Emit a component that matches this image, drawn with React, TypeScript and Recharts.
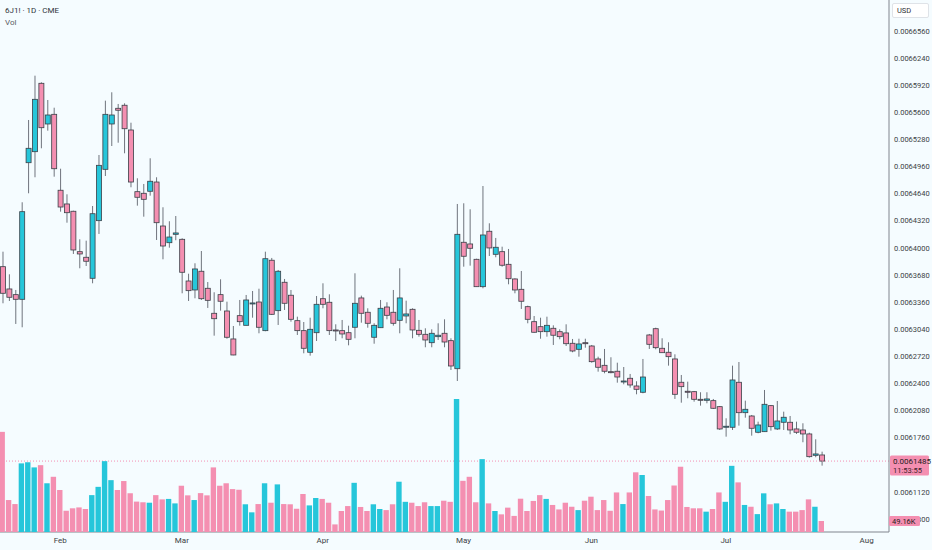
import React from "react"
import { ComposedChart, Bar, Cell, XAxis, YAxis, ReferenceLine } from "recharts"

const W = 932
const H = 550
const UP = "#26c6da"
const DOWN = "#f48fb1"
const BG = "#f5fcff"
const FONT = "Roboto, 'Liberation Sans', sans-serif"

// daily bars, 6J1! (JPY futures)
const opens = [
    0.0063779, 0.0063516, 0.0063449, 0.0063394, 0.0065006, 0.0065136, 0.0065943, 0.0065463, 0.0065577, 0.0064681,
    0.0064519, 0.0064433, 0.0063956, 0.0063890, 0.0063642, 0.0064322, 0.0064928, 0.0065463, 0.0065648, 0.0065684,
    0.0065392, 0.0064664, 0.0064645, 0.0064669, 0.0064778, 0.0064259, 0.0064062, 0.0064161, 0.0064102, 0.0063610,
    0.0063504, 0.0063725, 0.0063524, 0.0063229, 0.0063449, 0.0063256, 0.0062926, 0.0063201, 0.0063087, 0.0063339,
    0.0063362, 0.0063024, 0.0063855, 0.0063260, 0.0063595, 0.0063442, 0.0063142, 0.0063024, 0.0062769, 0.0063000,
    0.0063401, 0.0063359, 0.0063032, 0.0063024, 0.0063000, 0.0063064, 0.0063410, 0.0063241, 0.0062946, 0.0063059,
    0.0063303, 0.0063241, 0.0063146, 0.0063197, 0.0063276, 0.0063028, 0.0062981, 0.0062882, 0.0062953, 0.0062993,
    0.0062906, 0.0062575, 0.0064067, 0.0064047, 0.0063866, 0.0063543, 0.0064197, 0.0063925, 0.0063956, 0.0063807,
    0.0063634, 0.0063512, 0.0063307, 0.0063130, 0.0063071, 0.0063012, 0.0063052, 0.0063012, 0.0062997, 0.0062875,
    0.0062804, 0.0062882, 0.0062843, 0.0062690, 0.0062615, 0.0062540, 0.0062545, 0.0062418, 0.0062462, 0.0062371,
    0.0062297, 0.0062973, 0.0063047, 0.0062816, 0.0062769, 0.0062690, 0.0062415, 0.0062309, 0.0062304, 0.0062214,
    0.0062202, 0.0062198, 0.0062127, 0.0061884, 0.0061884, 0.0062415, 0.0062056, 0.0062017, 0.0061825, 0.0061832,
    0.0062139, 0.0061864, 0.0061943, 0.0061943, 0.0061864, 0.0061852, 0.0061805, 0.0061553, 0.0061557,
]
const highs = [
    0.0063956, 0.0063689, 0.0063504, 0.0064539, 0.0065510, 0.0066033, 0.0065955, 0.0065746, 0.0065655, 0.0064935,
    0.0064633, 0.0064440, 0.0064102, 0.0064086, 0.0064495, 0.0065097, 0.0065738, 0.0065837, 0.0065699, 0.0065707,
    0.0065478, 0.0064822, 0.0064755, 0.0065058, 0.0064834, 0.0064480, 0.0064315, 0.0064377, 0.0064114, 0.0063696,
    0.0063819, 0.0063964, 0.0063598, 0.0063477, 0.0063630, 0.0063366, 0.0063079, 0.0063386, 0.0063445, 0.0063492,
    0.0063519, 0.0063956, 0.0063882, 0.0063740, 0.0063634, 0.0063504, 0.0063189, 0.0063126, 0.0063177, 0.0063433,
    0.0063583, 0.0063453, 0.0063099, 0.0063150, 0.0063083, 0.0063701, 0.0063437, 0.0063288, 0.0063111, 0.0063386,
    0.0063359, 0.0063504, 0.0063760, 0.0063378, 0.0063288, 0.0063150, 0.0063052, 0.0063040, 0.0063111, 0.0063158,
    0.0062934, 0.0064519, 0.0064527, 0.0064456, 0.0063873, 0.0064731, 0.0064291, 0.0064118, 0.0064015, 0.0063988,
    0.0063642, 0.0063728, 0.0063319, 0.0063197, 0.0063177, 0.0063189, 0.0063087, 0.0063040, 0.0063099, 0.0062926,
    0.0062929, 0.0062929, 0.0062855, 0.0062717, 0.0062808, 0.0062710, 0.0062646, 0.0062595, 0.0062513, 0.0062427,
    0.0062690, 0.0062985, 0.0063059, 0.0062934, 0.0062887, 0.0062745, 0.0062501, 0.0062422, 0.0062312, 0.0062297,
    0.0062297, 0.0062218, 0.0062135, 0.0061990, 0.0062611, 0.0062654, 0.0062198, 0.0062029, 0.0061950, 0.0062324,
    0.0062147, 0.0062194, 0.0062068, 0.0062017, 0.0061950, 0.0061931, 0.0061820, 0.0061742, 0.0061596,
]
const lows = [
    0.0063347, 0.0063374, 0.0063103, 0.0063064, 0.0064645, 0.0064834, 0.0065176, 0.0065384, 0.0064841, 0.0064428,
    0.0064298, 0.0063929, 0.0063760, 0.0063787, 0.0063583, 0.0064165, 0.0064849, 0.0065203, 0.0065242, 0.0065117,
    0.0064716, 0.0064499, 0.0064369, 0.0064617, 0.0064094, 0.0063866, 0.0064003, 0.0064091, 0.0063465, 0.0063374,
    0.0063406, 0.0063386, 0.0063292, 0.0062965, 0.0063260, 0.0062929, 0.0062734, 0.0063083, 0.0063087, 0.0063177,
    0.0062993, 0.0063017, 0.0063209, 0.0063091, 0.0063268, 0.0063130, 0.0062973, 0.0062757, 0.0062729, 0.0062902,
    0.0063288, 0.0062973, 0.0062902, 0.0062934, 0.0062851, 0.0062934, 0.0063118, 0.0063059, 0.0062870, 0.0063059,
    0.0063158, 0.0063083, 0.0062993, 0.0063111, 0.0062934, 0.0062953, 0.0062828, 0.0062828, 0.0062914, 0.0062828,
    0.0062560, 0.0062430, 0.0063779, 0.0063791, 0.0063543, 0.0063524, 0.0063905, 0.0063890, 0.0063779, 0.0063571,
    0.0063465, 0.0063280, 0.0063111, 0.0063000, 0.0062929, 0.0062953, 0.0062855, 0.0062922, 0.0062843, 0.0062769,
    0.0062717, 0.0062823, 0.0062646, 0.0062540, 0.0062521, 0.0062521, 0.0062410, 0.0062391, 0.0062351, 0.0062273,
    0.0062285, 0.0062808, 0.0062804, 0.0062764, 0.0062611, 0.0062218, 0.0062174, 0.0062226, 0.0062186, 0.0062139,
    0.0062167, 0.0062100, 0.0061852, 0.0061773, 0.0061852, 0.0061903, 0.0061997, 0.0061785, 0.0061813, 0.0061832,
    0.0061844, 0.0061852, 0.0061852, 0.0061801, 0.0061805, 0.0061707, 0.0061525, 0.0061530, 0.0061431,
]
const closes = [
    0.0063465, 0.0063418, 0.0063394, 0.0064428, 0.0065176, 0.0065754, 0.0065419, 0.0065569, 0.0064935, 0.0064483,
    0.0064416, 0.0063976, 0.0063929, 0.0063843, 0.0064404, 0.0064975, 0.0065577, 0.0065569, 0.0065625, 0.0065407,
    0.0064778, 0.0064598, 0.0064574, 0.0064787, 0.0064298, 0.0064023, 0.0064129, 0.0064177, 0.0063713, 0.0063496,
    0.0063752, 0.0063401, 0.0063382, 0.0063165, 0.0063371, 0.0062946, 0.0062737, 0.0063130, 0.0063386, 0.0063351,
    0.0063064, 0.0063873, 0.0063217, 0.0063725, 0.0063347, 0.0063158, 0.0063024, 0.0062816, 0.0063040, 0.0063335,
    0.0063335, 0.0063024, 0.0063024, 0.0062985, 0.0062922, 0.0063347, 0.0063229, 0.0063111, 0.0063087, 0.0063288,
    0.0063205, 0.0063111, 0.0063410, 0.0063221, 0.0063032, 0.0062981, 0.0062914, 0.0062993, 0.0062970, 0.0062890,
    0.0062607, 0.0064161, 0.0063902, 0.0063996, 0.0063543, 0.0064153, 0.0064000, 0.0064008, 0.0063796, 0.0063637,
    0.0063504, 0.0063371, 0.0063158, 0.0063005, 0.0063012, 0.0063087, 0.0062970, 0.0062953, 0.0062870, 0.0062784,
    0.0062867, 0.0062870, 0.0062658, 0.0062592, 0.0062545, 0.0062528, 0.0062477, 0.0062430, 0.0062383, 0.0062332,
    0.0062477, 0.0062863, 0.0062823, 0.0062764, 0.0062717, 0.0062273, 0.0062363, 0.0062297, 0.0062214, 0.0062202,
    0.0062218, 0.0062108, 0.0061864, 0.0061896, 0.0062442, 0.0062056, 0.0062096, 0.0061872, 0.0061911, 0.0062155,
    0.0061891, 0.0061958, 0.0062002, 0.0061852, 0.0061825, 0.0061805, 0.0061537, 0.0061569, 0.0061485,
]
// volume in thousands of contracts
const volumesK = [
    448, 143, 125, 307, 312, 289, 299, 218, 247, 188, 95, 106, 110, 103, 165, 202, 317, 232, 188, 228,
    173, 136, 133, 131, 165, 146, 148, 128, 207, 164, 143, 174, 164, 289, 207, 218, 192, 189, 124, 88,
    125, 218, 131, 213, 125, 124, 104, 170, 119, 152, 148, 131, 34, 94, 116, 220, 112, 94, 124, 103,
    98, 124, 225, 135, 131, 116, 133, 116, 116, 140, 135, 595, 229, 247, 133, 326, 128, 94, 79, 109,
    72, 149, 94, 139, 165, 148, 121, 101, 131, 113, 98, 140, 158, 98, 143, 95, 177, 125, 177, 267,
    255, 161, 101, 96, 143, 208, 292, 112, 106, 106, 91, 103, 177, 135, 296, 222, 121, 113, 80, 173,
    124, 128, 103, 91, 91, 98, 146, 113, 49.16,
]

// bar index where each month label sits
const monthTicks = [9, 28, 50, 72, 92, 113, 135]
const monthLabels = ["Feb", "Mar", "Apr", "May", "Jun", "Jul", "Aug"]
// 0.0061440 is hidden behind the last-price tag, like in the terminal
const priceTicks = [
    0.006080, 0.006112, 0.006176, 0.006208, 0.006240, 0.006272, 0.006304, 0.006336, 0.006368,
    0.006400, 0.006432, 0.006464, 0.006496, 0.006528, 0.006560, 0.006592, 0.006624, 0.006656,
]
const lastPrice = 0.0061485
const countdown = "11:53:55"
const lastVolLabel = "49.16K"

const data = opens.map((o, i) => ({
    i,
    open: o,
    high: highs[i],
    low: lows[i],
    close: closes[i],
    range: [lows[i], highs[i]],
    vol: volumesK[i],
}))

const xDomain = [-0.42, 138.5]
const priceDomain = [0.0060648, 0.0066926]
const volDomain = [0, 2380]
const margin = { top: 0, right: 0, bottom: 0, left: 0 }

function Candle(props: any) {
    const { x, y, width, height, payload } = props
    const { open, close, high, low } = payload
    const top = Math.min(y, y + height)
    const h = Math.abs(height)
    const k = h / (high - low)
    const yOf = (v: number) => top + (high - v) * k
    const bTop = yOf(Math.max(open, close))
    const bBot = yOf(Math.min(open, close))
    const cx = x + width / 2
    const up = close >= open
    return (
        <g>
            <line x1={cx} x2={cx} y1={top} y2={top + h} stroke="#6f747d" strokeWidth={1} />
            <rect
                x={x}
                y={bTop}
                width={width}
                height={Math.max(bBot - bTop, 1)}
                fill={up ? UP : DOWN}
                stroke="#3a3f47"
                strokeWidth={0.8}
            />
        </g>
    )
}

function PriceTag(props: any) {
    const { viewBox } = props
    const x = viewBox.x + viewBox.width + 1
    const y = viewBox.y
    return (
        <g>
            <rect x={x} y={y - 5.5} width={39} height={20} rx={1.5} fill={DOWN} />
            <text x={x + 3} y={y + 3} fontSize={8} fontFamily={FONT} fill="#1e1e1e">
                {lastPrice.toFixed(7)}
            </text>
            <text x={x + 3} y={y + 12} fontSize={7.5} fontFamily={FONT} fill="#3a1e28">
                {countdown}
            </text>
        </g>
    )
}

function VolTag(props: any) {
    const { viewBox } = props
    const x = viewBox.x + viewBox.width
    const y = viewBox.y
    return (
        <g>
            <rect x={x} y={y - 5} width={31} height={10} rx={1.5} fill={DOWN} />
            <text x={x + 3} y={y + 3} fontSize={7.5} fontFamily={FONT} fill="#1e1e1e">
                {lastVolLabel}
            </text>
        </g>
    )
}

export default function App() {
    return (
        <div style={{ position: "fixed", left: 0, top: 0, width: W, height: H, background: BG, overflow: "hidden" }}>
            {/* price pane with the axes */}
            <div style={{ position: "absolute", left: 0, top: 0 }}>
                <ComposedChart width={W} height={H} data={data} margin={margin}>
                    <XAxis
                        dataKey="i"
                        type="number"
                        domain={xDomain}
                        ticks={monthTicks}
                        tickFormatter={(v: number) => monthLabels[monthTicks.indexOf(v)] ?? ""}
                        height={18}
                        tickLine={false}
                        tickSize={3}
                        axisLine={{ stroke: "#80858e" }}
                        tick={{ fontSize: 8, fill: "#3c3f45", fontFamily: FONT }}
                        allowDataOverflow
                    />
                    <YAxis
                        orientation="right"
                        width={43}
                        domain={priceDomain}
                        ticks={priceTicks}
                        tickFormatter={(v: number) => v.toFixed(7)}
                        tickLine={false}
                        tickSize={3}
                        tickMargin={2}
                        axisLine={{ stroke: "#80858e" }}
                        tick={{ fontSize: 7.5, fill: "#3c3f45", fontFamily: FONT, textAnchor: "start" }}
                        allowDataOverflow
                    />
                    <ReferenceLine
                        y={lastPrice}
                        stroke={DOWN}
                        strokeDasharray="1 2"
                        strokeWidth={1}
                        label={<PriceTag />}
                    />
                    <Bar dataKey="range" barSize={5} shape={<Candle />} isAnimationActive={false} />
                </ComposedChart>
            </div>

            {/* volume pane on the same grid */}
            <div style={{ position: "absolute", left: 0, top: 0 }}>
                <ComposedChart width={W} height={H} data={data} margin={{ top: 0, right: 43, bottom: 18, left: 0 }}>
                    <XAxis dataKey="i" type="number" domain={xDomain} hide allowDataOverflow />
                    <YAxis domain={volDomain} hide allowDataOverflow />
                    <Bar dataKey="vol" barSize={5.4} isAnimationActive={false}>
                        {data.map((d, i) => (
                            <Cell key={i} fill={d.close >= d.open ? UP : DOWN} />
                        ))}
                    </Bar>
                    <ReferenceLine y={volumesK[volumesK.length - 1]} stroke="none" label={<VolTag />} />
                </ComposedChart>
            </div>

            {/* legend, top left */}
            <div style={{ position: "absolute", left: 5, top: 5, fontFamily: FONT, fontSize: 8, color: "#2f3237", lineHeight: "11px" }}>
                6J1! · 1D · CME
            </div>
            <div style={{ position: "absolute", left: 5, top: 17, fontFamily: FONT, fontSize: 8, color: "#5b5f66", lineHeight: "11px" }}>
                Vol
            </div>

            {/* currency box */}
            <div
                style={{
                    position: "absolute",
                    left: 892,
                    top: 3,
                    width: 37,
                    height: 15,
                    boxSizing: "border-box",
                    border: "1px solid #dfe3e8",
                    borderRadius: 2,
                    background: "#ffffff",
                    fontFamily: FONT,
                    fontSize: 7.5,
                    color: "#2f3237",
                    lineHeight: "13px",
                    paddingLeft: 4,
                }}
            >
                USD
            </div>
        </div>
    )
}
